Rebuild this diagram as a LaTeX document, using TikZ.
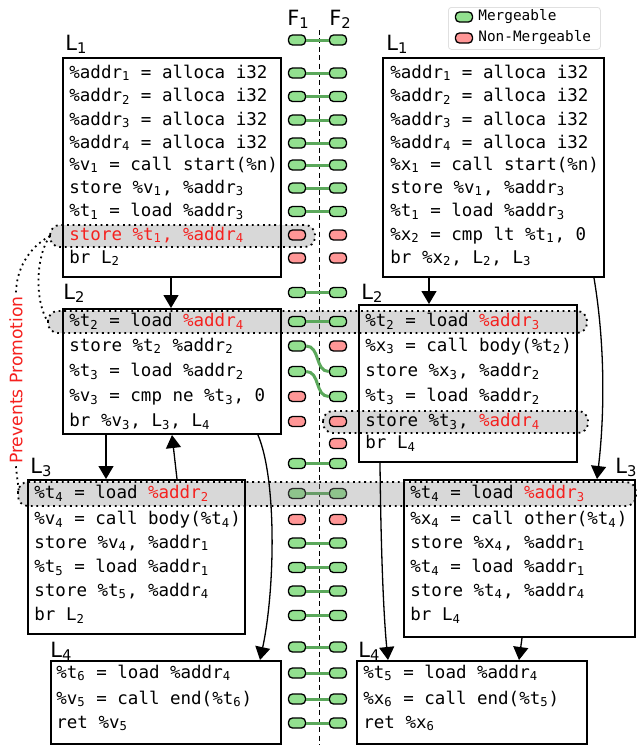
\documentclass[tikz,border=0pt]{standalone}
\usepackage{fontspec}
\setmainfont{DejaVu Sans}
\newfontfamily\codefam{DejaVu Sans Mono}
\usetikzlibrary{arrows.meta,calc}

\definecolor{mgreen}{HTML}{92E08F}
\definecolor{lgreen}{HTML}{5BA85B}
\definecolor{nred}{HTML}{FF9696}
\definecolor{hlred}{HTML}{F5211F}

\newcommand{\sbs}[1]{\textsubscript{#1}}
\newcommand{\hl}[1]{\textcolor{hlred}{#1}}
\newcommand{\codefont}{\codefam\fontsize{8.75}{10}\selectfont}

\tikzset{
  blk/.style={draw, line width=1pt, anchor=north west, inner sep=0pt},
  code/.style={font=\codefont, anchor=base west, inner sep=0pt},
  blabel/.style={font=\fontsize{10.5}{12}\selectfont, anchor=base west, inner sep=0pt},
  pill/.style={draw, line width=0.65pt, rounded corners=2pt, minimum width=8.5pt, minimum height=5pt, inner sep=0pt},
  pillg/.style={pill, fill=mgreen},
  pillr/.style={pill, fill=nred},
  pilln/.style={draw=none, fill=none, minimum width=8.5pt, minimum height=5pt, inner sep=0pt},
  link/.style={lgreen, line width=1.5pt},
  band/.style={fill=black!47, fill opacity=0.32, line width=0.9pt, dash pattern=on 0.9pt off 1.9pt, rounded corners=5pt},
  promo/.style={line width=0.9pt, dash pattern=on 0.9pt off 1.9pt},
  flow/.style={-{Triangle[length=6.5pt,width=7.5pt]}, line width=0.65pt},
}

\begin{document}
\begin{tikzpicture}[x=0.5pt,y=-0.5pt]
\useasboundingbox[fill=white] (0,0) rectangle (637,745);

% Function headers and the divider
\node[blabel] (f1) at (287,25) {F\sbs{1}};
\node[blabel] (f2) at (329,25) {F\sbs{2}};
\coordinate (dtop) at (319,30);
\coordinate (dbot) at (319,745);
\draw[line width=0.5pt, dash pattern=on 2.5pt off 1.7pt] (dtop) -- (dbot);

% Legend
\node[draw=black!12, rounded corners=1.5pt, minimum width=76pt, minimum height=21pt, anchor=north west] (lgd) at (448,7) {};
\node[pillg] (lgm) at (464,17) {};
\node[pillr] (lgn) at (464,38) {};
\node[font=\codefam\fontsize{7.2}{8}\selectfont, anchor=west, inner sep=0pt] (lgmt) at (478,17) {Mergeable};
\node[font=\codefam\fontsize{7.2}{8}\selectfont, anchor=west, inner sep=0pt] (lgnt) at (478,38) {Non-Mergeable};

% Highlighted instructions (behind the pills)
\draw[band] (50,225) rectangle (315,247);
\draw[band] (48,311) rectangle (587,333);
\draw[band] (323,411) rectangle (588,433);
\coordinate (bA) at (50,236);
\coordinate (bB) at (48,322);
\coordinate (bD) at (19,494);

% Alignment of the two functions
\foreach \y/\a/\b/\c [count=\i] in {40/g/g/1, 73/g/g/1, 96.5/g/g/1, 120/g/g/1, 143/g/g/1,
    165/g/g/1, 188/g/g/1, 211.5/g/g/1, 235/r/r/0, 258/r/r/0, 292.5/g/g/1, 321.5/g/g/1,
    346/g/r/0, 371.5/g/g/0, 396.5/r/g/0, 421.5/r/r/0, 443.5/n/r/0, 463.5/g/g/1,
    493.5/g/g/1, 519.5/r/r/0, 543/g/g/1, 567.5/g/g/1, 591/g/g/1, 615.5/g/g/1,
    647/g/g/1, 673/g/g/1, 699/g/g/1, 723/g/g/1}{
  \node[pill\a] (pl\i) at (297,\y) {};
  \node[pill\b] (pr\i) at (338,\y) {};
  \ifnum\c=1 \draw[link] (pl\i) -- (pr\i); \fi
}
\draw[link] (pl13.east) .. controls +(14,0) and +(-14,0) .. (pr14.west);
\draw[link] (pl14.east) .. controls +(14,0) and +(-14,0) .. (pr15.west);

% Highlighted load in L3 (over the pills)
\draw[band] (18,482) rectangle (636,506);

% Basic blocks
\node[blk, minimum width=109pt, minimum height=109.5pt] (lft1) at (62,57) {};
\node[blk, minimum width=110.5pt, minimum height=109.5pt] (rgt1) at (382,57) {};
\node[blk, minimum width=109pt, minimum height=62.5pt] (lft2) at (62,308) {};
\node[blk, minimum width=109pt, minimum height=78.5pt] (rgt2) at (358,304) {};
\node[blk, minimum width=108.5pt, minimum height=77pt] (lft3) at (27,479) {};
\node[blk, minimum width=115.5pt, minimum height=78.5pt] (rgt3) at (403,479) {};
\node[blk, minimum width=115pt, minimum height=41.5pt] (lft4) at (50,660) {};
\node[blk, minimum width=115pt, minimum height=41.5pt] (rgt4) at (356,660) {};

% Block names
\node[blabel] (nl1) at (65,50) {L\sbs{1}};
\node[blabel] (nr1) at (386,50) {L\sbs{1}};
\node[blabel] (nl2) at (63,299) {L\sbs{2}};
\node[blabel] (nr2) at (361,299) {L\sbs{2}};
\node[blabel] (nl3) at (30,473) {L\sbs{3}};
\node[blabel] (nr3) at (615,473) {L\sbs{3}};
\node[blabel] (nl4) at (50,657) {L\sbs{4}};
\node[blabel] (nr4) at (358,657) {L\sbs{4}};

% F1: L1
\foreach \y/\t [count=\i] in {73/{\%addr\sbs{1} = alloca i32}, 96.5/{\%addr\sbs{2} = alloca i32},
    120/{\%addr\sbs{3} = alloca i32}, 143/{\%addr\sbs{4} = alloca i32},
    165/{\%v\sbs{1} = call start(\%n)}, 188/{store \%v\sbs{1}, \%addr\sbs{3}},
    211.5/{\%t\sbs{1} = load \%addr\sbs{3}}, 235/{\hl{store \%t\sbs{1}, \%addr\sbs{4}}},
    258/{br L\sbs{2}}}
  \node[code] (cl1-\i) at (69,\y+5) {\t};

% F2: L1
\foreach \y/\t [count=\i] in {73/{\%addr\sbs{1} = alloca i32}, 96.5/{\%addr\sbs{2} = alloca i32},
    120/{\%addr\sbs{3} = alloca i32}, 143/{\%addr\sbs{4} = alloca i32},
    165/{\%x\sbs{1} = call start(\%n)}, 188/{store \%v\sbs{1}, \%addr\sbs{3}},
    211.5/{\%t\sbs{1} = load \%addr\sbs{3}}, 235/{\%x\sbs{2} = cmp lt \%t\sbs{1}, 0},
    258/{br \%x\sbs{2}, L\sbs{2}, L\sbs{3}}}
  \node[code] (cr1-\i) at (390,\y+5) {\t};

% F1: L2
\foreach \y/\t [count=\i] in {321.5/{\%t\sbs{2} = load \hl{\%addr\sbs{4}}},
    346/{store \%t\sbs{2} \%addr\sbs{2}}, 371.5/{\%t\sbs{3} = load \%addr\sbs{2}},
    396.5/{\%v\sbs{3} = cmp ne \%t\sbs{3}, 0}, 421.5/{br \%v\sbs{3}, L\sbs{3}, L\sbs{4}}}
  \node[code] (cl2-\i) at (69,\y+5) {\t};

% F2: L2
\foreach \y/\t [count=\i] in {321.5/{\%t\sbs{2} = load \hl{\%addr\sbs{3}}},
    346/{\%x\sbs{3} = call body(\%t\sbs{2})}, 371.5/{store \%x\sbs{3}, \%addr\sbs{2}},
    396.5/{\%t\sbs{3} = load \%addr\sbs{2}}, 421.5/{store \%t\sbs{3}, \hl{\%addr\sbs{4}}},
    443.5/{br L\sbs{4}}}
  \node[code] (cr2-\i) at (365,\y+5) {\t};

% F1: L3
\foreach \y/\t [count=\i] in {493.5/{\%t\sbs{4} = load \hl{\%addr\sbs{2}}},
    519.5/{\%v\sbs{4} = call body(\%t\sbs{4})}, 543/{store \%v\sbs{4}, \%addr\sbs{1}},
    567.5/{\%t\sbs{5} = load \%addr\sbs{1}}, 591/{store \%t\sbs{5}, \%addr\sbs{4}},
    615.5/{br L\sbs{2}}}
  \node[code] (cl3-\i) at (34,\y+5) {\t};

% F2: L3
\foreach \y/\t [count=\i] in {493.5/{\%t\sbs{4} = load \hl{\%addr\sbs{3}}},
    519.5/{\%x\sbs{4} = call other(\%t\sbs{4})}, 543/{store \%x\sbs{4}, \%addr\sbs{1}},
    567.5/{\%t\sbs{4} = load \%addr\sbs{1}}, 591/{store \%t\sbs{4}, \%addr\sbs{4}},
    615.5/{br L\sbs{4}}}
  \node[code] (cr3-\i) at (410,\y+5) {\t};

% F1: L4
\foreach \y/\t [count=\i] in {673/{\%t\sbs{6} = load \%addr\sbs{4}},
    699/{\%v\sbs{5} = call end(\%t\sbs{6})}, 723/{ret \%v\sbs{5}}}
  \node[code] (cl4-\i) at (56,\y+5) {\t};

% F2: L4
\foreach \y/\t [count=\i] in {673/{\%t\sbs{5} = load \%addr\sbs{4}},
    699/{\%x\sbs{6} = call end(\%t\sbs{5})}, 723/{ret \%x\sbs{6}}}
  \node[code] (cr4-\i) at (363,\y+5) {\t};

% Control flow
\draw[flow] ($(lft1.south west)+(109,0)$) -- ($(lft2.north west)+(109,0)$);
\draw[flow] ($(lft2.south west)+(44,0)$) -- ($(lft3.north west)+(79,0)$);
\draw[flow] ($(lft3.north west)+(150,0)$) -- ($(lft2.south west)+(110,0)$);
\draw[flow] ($(lft2.south west)+(196,0)$) .. controls (277,480) and (275,590) .. ($(lft4.north west)+(210,0)$);
\draw[flow] ($(rgt1.south west)+(47,0)$) -- ($(rgt2.north west)+(71,0)$);
\draw[flow] ($(rgt1.south west)+(212,0)$) .. controls (606,350) and (604,420) .. ($(rgt3.north west)+(194,0)$);
\draw[flow] ($(rgt2.south west)+(22,0)$) .. controls (381,560) and (384,620) .. ($(rgt4.north west)+(32,0)$);
\draw[flow] ($(rgt3.south west)+(119,0)$) -- ($(rgt4.north west)+(163,0)$);

% Prevents Promotion
\node[font=\fontsize{8.6}{9}\selectfont, text=hlred, rotate=90, inner sep=1pt] (prv) at (16,380) {Prevents Promotion};
\draw[promo] (bA) .. controls (36,255) and (34,300) .. (bB);
\draw[promo] (bA) .. controls (28,248) and (16,270) .. (prv.east);
\draw[promo] (prv.west) .. controls (16,470) and (18,482) .. (bD);

\end{tikzpicture}
\end{document}
